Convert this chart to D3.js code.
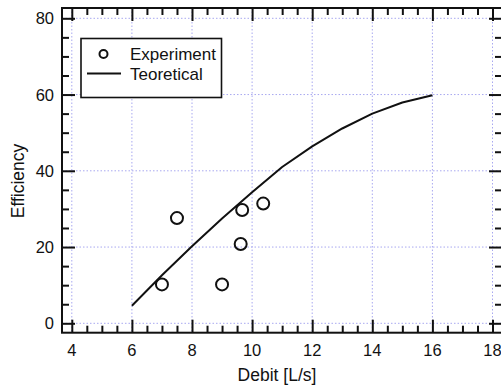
<!DOCTYPE html>
<html><head><meta charset="utf-8">
<script src="https://cdn.jsdelivr.net/npm/d3@7"></script>
<style>body{margin:0;background:#fff}svg{display:block}</style>
</head><body>
<script>
// Data
const expX = [7.0, 7.5, 9.0, 9.62, 9.67, 10.37];
const expY = [10.2, 27.6, 10.2, 20.8, 29.7, 31.4];
const theoX = [6, 7, 8, 9, 10, 11, 12, 13, 14, 15, 16];
const theoY = [4.6, 12.6, 20.2, 27.5, 34.4, 41.0, 46.4, 51.1, 55.0, 57.9, 59.8];
const xTicks = [4, 6, 8, 10, 12, 14, 16, 18];
const yTicks = [0, 20, 40, 60, 80];
const legendLabels = ["Experiment", "Teoretical"];
const xTitle = "Debit [L/s]";
const yTitle = "Efficiency";

const W = 501, H = 387;
const frame = {left: 62, right: 502, top: 8, bottom: 332.7};
const x = d3.scaleLinear().domain([4, 18]).range([71.8, 492.5]);
const y = d3.scaleLinear().domain([0, 80]).range([323.3, 18.3]);

const svg = d3.select("body").append("svg").attr("width", W).attr("height", H);
const font = "'Liberation Sans', Arial, sans-serif";
const ink = "#111";

// grid
const grid = svg.append("g").attr("stroke", "#a8a8f0").attr("stroke-width", 1).attr("stroke-dasharray", "1.5,2");
xTicks.forEach(t => grid.append("line").attr("x1", x(t)).attr("x2", x(t)).attr("y1", frame.top).attr("y2", frame.bottom));
yTicks.forEach(t => grid.append("line").attr("y1", y(t)).attr("y2", y(t)).attr("x1", frame.left).attr("x2", frame.right));

// minor/major ticks via d3 axes
const xMinor = d3.range(4, 18.001, 0.5).filter(v => !xTicks.includes(v));
const yMinor = d3.range(0, 80.001, 5).filter(v => !yTicks.includes(v));
function styleAxis(g){ g.select(".domain").remove(); g.selectAll("line").attr("stroke", ink).attr("stroke-width", 2); g.selectAll("text").remove(); }

// bottom
svg.append("g").attr("transform", `translate(0,${frame.bottom})`).call(d3.axisTop(x).tickValues(xTicks).tickSize(13)).call(styleAxis);
svg.append("g").attr("transform", `translate(0,${frame.bottom})`).call(d3.axisTop(x).tickValues(xMinor).tickSize(7)).call(styleAxis);
// top
svg.append("g").attr("transform", `translate(0,${frame.top})`).call(d3.axisBottom(x).tickValues(xTicks).tickSize(13)).call(styleAxis);
svg.append("g").attr("transform", `translate(0,${frame.top})`).call(d3.axisBottom(x).tickValues(xMinor).tickSize(7)).call(styleAxis);
// left
svg.append("g").attr("transform", `translate(${frame.left},0)`).call(d3.axisRight(y).tickValues(yTicks).tickSize(13)).call(styleAxis);
svg.append("g").attr("transform", `translate(${frame.left},0)`).call(d3.axisRight(y).tickValues(yMinor).tickSize(7)).call(styleAxis);
// right
svg.append("g").attr("transform", `translate(${frame.right},0)`).call(d3.axisLeft(y).tickValues(yTicks).tickSize(13)).call(styleAxis);
svg.append("g").attr("transform", `translate(${frame.right},0)`).call(d3.axisLeft(y).tickValues(yMinor).tickSize(7)).call(styleAxis);

// frame
svg.append("rect").attr("x", frame.left).attr("y", frame.top).attr("width", frame.right - frame.left).attr("height", frame.bottom - frame.top)
  .attr("fill", "none").attr("stroke", ink).attr("stroke-width", 2);

// tick labels
svg.append("g").selectAll("text").data(xTicks).join("text")
  .attr("x", d => x(d)).attr("y", 356).attr("text-anchor", "middle")
  .attr("font-family", font).attr("font-size", 16.5).attr("fill", ink).text(d => d);
svg.append("g").selectAll("text").data(yTicks).join("text")
  .attr("x", 54).attr("y", d => y(d) + 6).attr("text-anchor", "end")
  .attr("font-family", font).attr("font-size", 16.5).attr("fill", ink).text(d => d);

// titles
svg.append("text").attr("x", 277).attr("y", 380.5).attr("text-anchor", "middle")
  .attr("font-family", font).attr("font-size", 17.5).attr("fill", ink).text(xTitle);
svg.append("text").attr("transform", "translate(24,181) rotate(-90)").attr("text-anchor", "middle")
  .attr("font-family", font).attr("font-size", 17.5).attr("fill", ink).text(yTitle);

// theoretical line
const line = d3.line().x((d, i) => x(theoX[i])).y(d => y(d));
svg.append("path").datum(theoY).attr("d", line).attr("fill", "none").attr("stroke", ink).attr("stroke-width", 2).attr("stroke-linejoin", "round");

// experiment points
svg.append("g").selectAll("circle").data(expX).join("circle")
  .attr("cx", d => x(d)).attr("cy", (d, i) => y(expY[i])).attr("r", 6)
  .attr("fill", "none").attr("stroke", ink).attr("stroke-width", 2);

// legend
const lg = svg.append("g");
lg.append("rect").attr("x", 81).attr("y", 38.5).attr("width", 140.5).attr("height", 59)
  .attr("fill", "#fff").attr("stroke", ink).attr("stroke-width", 1.6);
lg.append("circle").attr("cx", 103.5).attr("cy", 54).attr("r", 4).attr("fill", "none").attr("stroke", ink).attr("stroke-width", 2);
lg.append("line").attr("x1", 87).attr("x2", 121).attr("y1", 73.5).attr("y2", 73.5).attr("stroke", ink).attr("stroke-width", 2);
lg.append("text").attr("x", 130).attr("y", 60).attr("font-family", font).attr("font-size", 17).attr("fill", ink).text(legendLabels[0]);
lg.append("text").attr("x", 130).attr("y", 80).attr("font-family", font).attr("font-size", 17).attr("fill", ink).text(legendLabels[1]);
</script>
</body></html>
